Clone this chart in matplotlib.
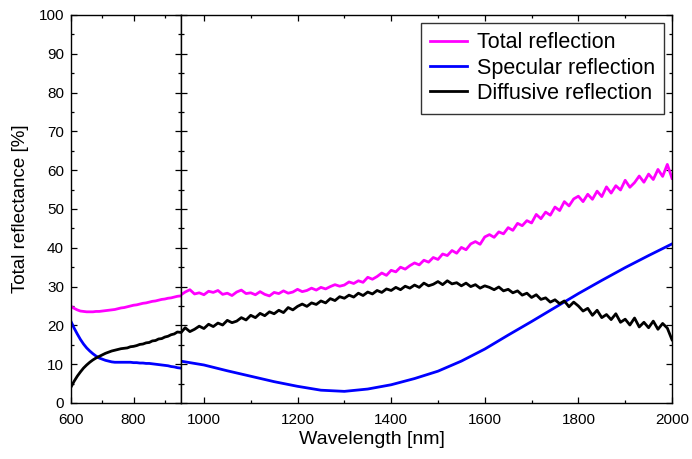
import numpy as np
import matplotlib.pyplot as plt
from matplotlib.ticker import MultipleLocator, FixedLocator

plt.rcParams['font.family'] = ['Liberation Sans', 'DejaVu Sans']

# visible detector range, 600-950 nm (10 nm steps)
wl_vis = np.arange(600, 951, 10)
total_vis = [24.9, 24.4, 24.0, 23.7, 23.6, 23.5, 23.5, 23.5, 23.6, 23.6,
             23.7, 23.8, 23.9, 24.0, 24.1, 24.3, 24.5, 24.6, 24.8, 25.0,
             25.2, 25.3, 25.5, 25.7, 25.8, 26.0, 26.2, 26.3, 26.5, 26.7,
             26.8, 27.0, 27.1, 27.3, 27.5, 27.6]
spec_vis = [21.0, 19.3, 17.8, 16.4, 15.2, 14.2, 13.4, 12.7, 12.1, 11.6,
            11.3, 11.0, 10.8, 10.6, 10.5, 10.5, 10.5, 10.5, 10.5, 10.5,
            10.4, 10.4, 10.3, 10.3, 10.2, 10.2, 10.1, 10.0, 9.9, 9.8,
            9.7, 9.6, 9.4, 9.3, 9.1, 9.0]
diff_vis = [4.1, 5.6, 6.9, 8.0, 9.0, 9.8, 10.5, 11.1, 11.6, 12.0,
            12.4, 12.8, 13.1, 13.4, 13.6, 13.8, 14.0, 14.1, 14.2, 14.5,
            14.6, 14.8, 15.1, 15.2, 15.5, 15.6, 16.0, 16.1, 16.5, 16.6,
            17.0, 17.2, 17.6, 17.8, 18.3, 18.2]

# NIR detector range, 950-2000 nm (10 nm steps)
wl_nir = np.arange(950, 2001, 10)
total_nir = [27.8, 28.6, 29.2, 28.1, 28.4, 27.9, 28.8, 28.5, 29.0, 28.0,
             28.3, 27.7, 28.6, 29.1, 28.2, 28.4, 27.9, 28.7, 28.0, 27.6,
             28.5, 28.2, 28.9, 28.3, 28.6, 29.3, 28.7, 29.0, 29.6, 29.1,
             29.8, 29.4, 30.0, 30.5, 30.1, 30.4, 31.2, 30.8, 31.5, 31.1,
             32.4, 31.9, 32.6, 33.5, 32.9, 34.2, 33.8, 35.0, 34.5, 35.4,
             36.1, 35.6, 36.8, 36.3, 37.5, 37.0, 38.4, 38.0, 39.3, 38.6,
             40.1, 39.5, 41.0, 41.6, 40.9, 42.8, 43.4, 42.7, 44.1, 43.6,
             45.2, 44.5, 46.3, 45.7, 47.0, 46.4, 48.6, 47.5, 49.2, 48.4,
             50.5, 49.6, 51.9, 50.8, 52.6, 53.3, 51.9, 53.8, 52.5, 54.6,
             53.2, 55.7, 54.1, 56.0, 54.9, 57.4, 55.6, 56.8, 58.5, 56.9,
             59.0, 57.6, 60.2, 58.4, 61.5, 57.9]
diff_nir = [18.0, 19.4, 18.4, 19.0, 19.8, 19.2, 20.3, 19.7, 20.6, 20.1,
            21.3, 20.7, 21.1, 22.0, 21.4, 22.6, 22.0, 23.1, 22.5, 23.5,
            23.0, 23.9, 23.3, 24.6, 24.0, 24.9, 25.5, 24.9, 25.8, 25.4,
            26.3, 25.8, 26.9, 26.4, 27.4, 27.0, 27.8, 27.3, 28.3, 27.7,
            28.6, 28.1, 29.0, 28.5, 29.4, 29.0, 29.8, 29.2, 30.1, 29.6,
            30.4, 29.8, 30.9, 30.2, 30.6, 31.3, 30.5, 31.5, 30.7, 31.0,
            30.2, 30.9, 30.0, 30.5, 29.6, 30.2, 29.8, 29.2, 29.9, 28.9,
            29.3, 28.4, 28.9, 27.8, 28.3, 27.2, 27.9, 26.7, 27.1, 26.0,
            26.6, 25.6, 26.3, 24.8, 26.0, 25.0, 23.7, 24.4, 22.6, 23.9,
            22.0, 22.8, 21.5, 23.0, 20.8, 21.6, 20.1, 21.9, 19.6, 20.8,
            19.4, 21.1, 19.0, 20.5, 19.3, 16.3]
wl_spec_nir = np.arange(950, 2001, 50)
spec_nir = [10.8, 9.8, 8.3, 6.9, 5.5, 4.3, 3.3, 3.0, 3.6, 4.7,
            6.3, 8.2, 10.8, 13.9, 17.5, 21.0, 24.6, 28.2, 31.6, 34.9,
            38.0, 41.0]

c_total = '#ff00ff'
c_spec = '#0000ff'
c_diff = '#000000'
lw = 2.0

fig = plt.figure(figsize=(6.92, 4.59), dpi=100)
gs = fig.add_gridspec(1, 2, width_ratios=[109.5, 491.5], wspace=0,
                      left=71/692, right=672/692, bottom=1-403/459, top=1-15/459)
ax1 = fig.add_subplot(gs[0])
ax2 = fig.add_subplot(gs[1], sharey=ax1)

ax1.plot(wl_vis, total_vis, color=c_total, lw=lw)
ax1.plot(wl_vis, spec_vis, color=c_spec, lw=lw)
ax1.plot(wl_vis, diff_vis, color=c_diff, lw=lw)

ax2.plot(wl_nir, total_nir, color=c_total, lw=lw, label='Total reflection')
ax2.plot(wl_spec_nir, spec_nir, color=c_spec, lw=lw, label='Specular reflection')
ax2.plot(wl_nir, diff_nir, color=c_diff, lw=lw, label='Diffusive reflection')

ax1.set_xlim(600, 950)
ax2.set_xlim(950, 2000)
ax1.set_ylim(0, 100)

ax1.xaxis.set_major_locator(FixedLocator([600, 800]))
ax1.xaxis.set_minor_locator(FixedLocator([700, 900]))
ax2.xaxis.set_major_locator(FixedLocator(np.arange(1000, 2001, 200)))
ax2.xaxis.set_minor_locator(FixedLocator(np.arange(1100, 2000, 200)))
ax1.yaxis.set_major_locator(MultipleLocator(10))
ax1.yaxis.set_minor_locator(MultipleLocator(5))

for ax in (ax1, ax2):
    ax.tick_params(which='both', direction='in', top=True, right=True,
                   left=True, labelsize=11, width=0.9)
    ax.tick_params(which='major', length=4.5)
    ax.tick_params(which='minor', length=2.5)
    ax.tick_params(axis='x', which='both', pad=7)
    ax.tick_params(axis='y', which='both', pad=5)
    for s in ax.spines.values():
        s.set_linewidth(1.0)
ax2.tick_params(axis='y', which='both', labelleft=False)

ax1.set_ylabel('Total reflectance [%]', fontsize=13.5, labelpad=7)
fig.text((71 + 672) / 2 / 692, 1 - 440/459, 'Wavelength [nm]',
         ha='center', va='center', fontsize=14)

leg = ax2.legend(loc='upper right', fontsize=15.5, frameon=True, fancybox=False,
                 edgecolor='black', handlelength=1.7, borderpad=0.45,
                 labelspacing=0.2, handletextpad=0.45, borderaxespad=0.35)
leg.get_frame().set_linewidth(1.0)

fig.savefig('out.png', dpi=100)
